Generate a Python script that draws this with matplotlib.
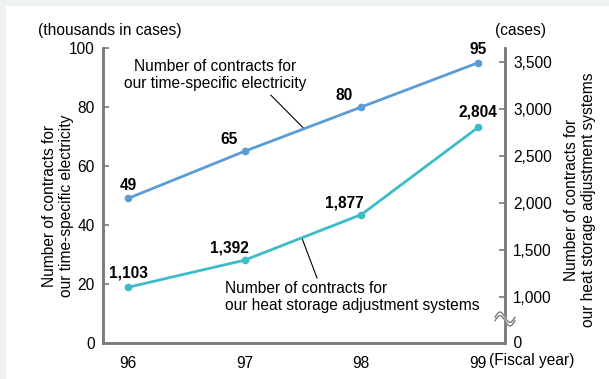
import matplotlib
matplotlib.use("Agg")
import matplotlib.pyplot as plt
import numpy as np
from matplotlib.patches import Rectangle

plt.rcParams['font.family'] = ['Liberation Sans', 'DejaVu Sans']

years = [96, 97, 98, 99]
year_labels = ['96', '97', '98', '99']
electricity = [49, 65, 80, 95]          # thousands of cases
heat_storage = [1103, 1392, 1877, 2804]  # cases
left_ticks = [0, 20, 40, 60, 80, 100]
right_ticks = [1000, 1500, 2000, 2500, 3000, 3500]
right_tick_labels = ['1,000', '1,500', '2,000', '2,500', '3,000', '3,500']

W, H = 609, 379
fig = plt.figure(figsize=(W / 100, H / 100), dpi=100)
fig.patch.set_facecolor('#eef4f4')
bg = Rectangle((6 / W, 0), 1, 1 - 6 / H, transform=fig.transFigure,
               facecolor='white', edgecolor='none', zorder=-10)
fig.patches.append(bg)

ax = fig.add_axes([103 / W, 1 - 343 / H, (505 - 103) / W, (343 - 48) / H])
ax.set_facecolor('none')
ax2 = ax.twinx()
ax2.set_facecolor('none')

blue = '#5b9bd6'
teal = '#3bbcc8'
grey = '#7a7a7a'
fs = 11.2

ax.set_xlim(95.786, 99.231)
ax.set_ylim(0, 100)
ax2.set_ylim(510.6, 3649)

ax.plot(years, electricity, color=blue, lw=2.0, marker='o', ms=4.5, zorder=3)
ax2.plot(years, heat_storage, color=teal, lw=2.0, marker='o', ms=4.5, zorder=3)

for a in (ax, ax2):
    a.spines['top'].set_visible(False)
    for s in ('left', 'right', 'bottom'):
        a.spines[s].set_color(grey)
        a.spines[s].set_linewidth(1.8)

ax.set_yticks(left_ticks)
ax.set_yticklabels([str(t) for t in left_ticks], fontsize=fs)
ax.tick_params(axis='y', direction='in', length=4, width=1.2, color=grey, pad=6)
ax.set_xticks(years)
ax.set_xticklabels(year_labels, fontsize=fs)
ax.tick_params(axis='x', length=0, pad=9)

ax2.set_yticks(right_ticks)
ax2.set_yticklabels(right_tick_labels, fontsize=fs)
ax2.tick_params(axis='y', direction='in', length=4, width=1.2, color=grey, pad=6)
ax2.text(1.0, 0.0, '  0', transform=ax2.transAxes, ha='left', va='center', fontsize=fs)

# data labels
e_off = [(0, 13), (-16, 12), (-17, 12), (0, 13)]
h_off = [(0, 14), (-15, 12), (-17, 12), (0, 15)]
for x, v, o in zip(years, electricity, e_off):
    ax.annotate(f'{v}', (x, v), xytext=o, textcoords='offset pixels',
                ha='center', va='center', fontsize=fs, fontweight='bold')
for x, v, o in zip(years, heat_storage, h_off):
    ax2.annotate(f'{v:,}', (x, v), xytext=o, textcoords='offset pixels',
                 ha='center', va='center', fontsize=fs, fontweight='bold')

# series annotations
ax.text(96.745, 90.8, 'Number of contracts for\nour time-specific electricity',
        ha='center', va='center', fontsize=fs, linespacing=1.2)
ax.plot([97.225, 97.51], [84.0, 72.6], color='black', lw=0.8)
ax2.text(96.83, 1000, 'Number of contracts for\nour heat storage adjustment systems',
         ha='left', va='center', multialignment='left', fontsize=fs, linespacing=1.2)
ax2.plot([97.49, 97.62], [1630, 1202], color='black', lw=0.8)

# axis break on right spine
t = np.linspace(-1, 1, 80)
bx = 99.231 + t * 0.085
yc = 1000 - (319 - 297) / 0.094
amp = 55
wave = yc - amp * np.sin(t * np.pi)
gap = 38
ax2.fill_between(bx, wave - gap / 2, wave + gap / 2, color='white', zorder=5, clip_on=False)
ax2.plot(bx, wave - gap / 2, color=grey, lw=1.0, zorder=6, clip_on=False)
ax2.plot(bx, wave + gap / 2, color=grey, lw=1.0, zorder=6, clip_on=False)

# unit labels
fig.text(110 / W, 1 - 30 / H, '(thousands in cases)', ha='center', va='center', fontsize=fs)
fig.text(521 / W, 1 - 31 / H, '(cases)', ha='center', va='center', fontsize=fs)
fig.text(489 / W, 1 - 360 / H, '(Fiscal year)', ha='left', va='center', fontsize=fs)

fig.text(58 / W, 1 - 206 / H, 'Number of contracts for\nour time-specific electricity',
         ha='center', va='center', rotation=90, fontsize=fs, linespacing=1.2)
fig.text(580 / W, 1 - 200 / H, 'Number of contracts for\nour heat storage adjustment systems',
         ha='center', va='center', rotation=90, fontsize=fs, linespacing=1.2)

fig.savefig('out.png', dpi=100, facecolor=fig.get_facecolor())
